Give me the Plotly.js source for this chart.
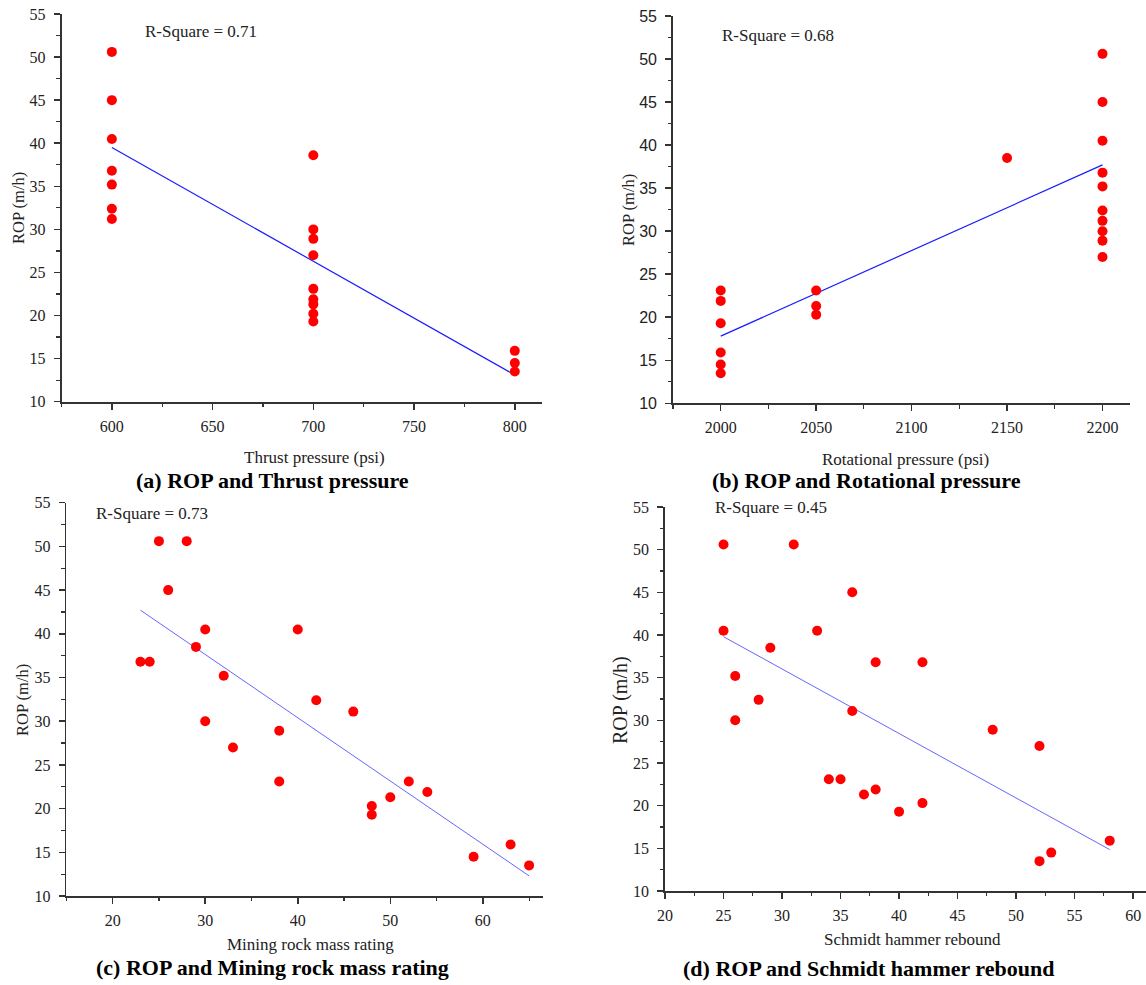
<!DOCTYPE html>
<html>
<head>
<meta charset="utf-8">
<script src="https://cdn.plot.ly/plotly-3.0.1.min.js"></script>
<style>html,body{margin:0;padding:0;background:#fff;}#chart{width:1146px;height:985px;}</style>
</head>
<body>
<div id="chart"></div>
<script>
// ---- Panel (a): ROP vs Thrust pressure ----
const thrustX = [600,600,600,600,600,600,600, 700,700,700,700,700,700,700,700,700, 800,800,800];
const thrustROP = [50.6,45,40.5,36.8,35.2,32.4,31.2, 38.6,30,28.9,27,23.1,21.9,21.3,20.2,19.3, 15.9,14.5,13.5];
const thrustFitX = [600, 800];
const thrustFitY = [39.5, 13.1];

// ---- Panel (b): ROP vs Rotational pressure ----
const rotX = [2000,2000,2000,2000,2000,2000, 2050,2050,2050, 2150, 2200,2200,2200,2200,2200,2200,2200,2200,2200,2200];
const rotROP = [23.1,21.9,19.3,15.9,14.5,13.5, 23.1,21.3,20.3, 38.5, 50.6,45,40.5,36.8,35.2,32.4,31.2,30,28.9,27];
const rotFitX = [2000, 2200];
const rotFitY = [17.8, 37.7];

// ---- Panel (c): ROP vs Mining rock mass rating ----
const mrmrX = [23,24,25,26,28,29,30,30,32,33,38,38,40,42,46,48,48,50,52,54,59,63,65];
const mrmrROP = [36.8,36.8,50.6,45,50.6,38.5,40.5,30,35.2,27,28.9,23.1,40.5,32.4,31.1,20.3,19.3,21.3,23.1,21.9,14.5,15.9,13.5];
const mrmrFitX = [23, 65];
const mrmrFitY = [42.7, 12.3];

// ---- Panel (d): ROP vs Schmidt hammer rebound ----
const shX = [25,25,26,26,28,29,31,33,34,35,36,36,37,38,38,40,42,42,48,52,52,53,58];
const shROP = [50.6,40.5,35.2,30,32.4,38.5,50.6,40.5,23.1,23.1,45,31.1,21.3,36.8,21.9,19.3,36.8,20.3,28.9,27,13.5,14.5,15.9];
const shFitX = [25, 58];
const shFitY = [39.8, 14.85];

const captions = ["(a) ROP and Thrust pressure", "(b) ROP and Rotational pressure", "(c) ROP and Mining rock mass rating", "(d) ROP and Schmidt hammer rebound"];
const xTitles = ["Thrust pressure (psi)", "Rotational pressure (psi)", "Mining rock mass rating", "Schmidt hammer rebound"];
const rSquares = ["R-Square = 0.71", "R-Square = 0.68", "R-Square = 0.73", "R-Square = 0.45"];
const yTitle = "ROP (m/h)";

const W = 1146, H = 985;
const SERIF = "Liberation Serif, Times New Roman, serif";
const SANS = "Liberation Sans, Arial, sans-serif";
const px = v => v / W;
const py = v => 1 - v / H;

function pts(x, y, n) {
  return {x: x, y: y, xaxis: 'x' + n, yaxis: 'y' + n, type: 'scatter', mode: 'markers',
    marker: {color: '#ff0000', size: 10, line: {width: 0}}, showlegend: false, hoverinfo: 'x+y'};
}
function fit(x, y, n, color, w) {
  return {x: x, y: y, xaxis: 'x' + n, yaxis: 'y' + n, type: 'scatter', mode: 'lines',
    line: {color: color, width: w}, showlegend: false, hoverinfo: 'skip'};
}

const data = [
  fit(thrustFitX, thrustFitY, '', '#1a1aff', 1.2), pts(thrustX, thrustROP, ''),
  fit(rotFitX, rotFitY, '2', '#1a1aff', 1.2), pts(rotX, rotROP, '2'),
  fit(mrmrFitX, mrmrFitY, '3', '#5555ff', 0.9), pts(mrmrX, mrmrROP, '3'),
  fit(shFitX, shFitY, '4', '#5555ff', 0.9), pts(shX, shROP, '4')
];

function xa(dom, range, dtick, minor, font, anchor) {
  return {domain: dom, range: range, anchor: anchor, tickmode: 'linear', tick0: 0, dtick: dtick,
    ticks: 'outside', ticklen: 6, tickwidth: 1.5, tickcolor: '#333',
    showline: true, linecolor: '#333', linewidth: 1.8, showgrid: false, zeroline: false,
    tickfont: font, ticklabelstandoff: 3, ticklabeloverflow: 'allow',
    minor: {ticks: 'outside', ticklen: 3.5, tickwidth: 1.2, tickcolor: '#333', dtick: minor, showgrid: false},
    fixedrange: true};
}
function ya(dom, font, anchor) {
  return {domain: dom, range: [10, 55], anchor: anchor, tickmode: 'linear', tick0: 0, dtick: 5,
    ticks: 'outside', ticklen: 6, tickwidth: 1.5, tickcolor: '#333',
    showline: true, linecolor: '#333', linewidth: 1.8, showgrid: false, zeroline: false,
    tickfont: font, ticklabelstandoff: 5, ticklabeloverflow: 'allow',
    minor: {ticks: 'outside', ticklen: 3.5, tickwidth: 1.2, tickcolor: '#333', dtick: 2.5, showgrid: false},
    fixedrange: true};
}

const serif16 = {family: SERIF, size: 16, color: '#222'};
const sans16 = {family: SANS, size: 16, color: '#222'};

const layout = {
  width: W, height: H,
  margin: {l: 0, r: 0, t: 0, b: 0},
  paper_bgcolor: '#fff', plot_bgcolor: '#fff',
  showlegend: false,
  xaxis: xa([px(61.5), px(542)], [575, 813.5], 50, 25, serif16, 'y'),
  yaxis: ya([py(401.7), py(14)], serif16, 'x'),
  xaxis2: xa([px(673), px(1130)], [1975, 2214.4], 50, 25, serif16, 'y2'),
  yaxis2: ya([py(403.3), py(16)], sans16, 'x2'),
  xaxis3: xa([px(66.4), px(543)], [15, 66.5], 10, 5, serif16, 'y3'),
  yaxis3: ya([py(896), py(502.7)], serif16, 'x3'),
  xaxis4: xa([px(665), px(1146)], [20, 61.1], 5, 2.5, serif16, 'y4'),
  yaxis4: ya([py(891), py(507)], serif16, 'x4'),
  annotations: []
};

// Axis titles, R-square labels and captions as paper annotations
const xTitlePos = [[314, 458], [905, 459], [310, 944], [912, 939]];
const yTitlePos = [[18, 208], [629, 210], [22, 700], [620, 700]];
const yTitleSize = [16.5, 16.5, 16.5, 20];
const rPos = [[143, 31], [720, 36], [94, 513], [713, 507]];
const capPos = [[272, 480], [866, 480], [272, 967], [868, 968]];

for (let i = 0; i < 4; i++) {
  layout.annotations.push({text: xTitles[i], xref: 'paper', yref: 'paper', x: px(xTitlePos[i][0]), y: py(xTitlePos[i][1]),
    xanchor: 'center', yanchor: 'middle', showarrow: false, font: {family: SERIF, size: 17, color: '#222'}});
  layout.annotations.push({text: yTitle, xref: 'paper', yref: 'paper', x: px(yTitlePos[i][0]), y: py(yTitlePos[i][1]),
    xanchor: 'center', yanchor: 'middle', textangle: -90, showarrow: false, font: {family: SERIF, size: yTitleSize[i], color: '#222'}});
  layout.annotations.push({text: rSquares[i], xref: 'paper', yref: 'paper', x: px(rPos[i][0]), y: py(rPos[i][1]),
    xanchor: 'left', yanchor: 'middle', showarrow: false, font: {family: SERIF, size: 17, color: '#222'}});
  layout.annotations.push({text: '<b>' + captions[i] + '</b>', xref: 'paper', yref: 'paper', x: px(capPos[i][0]), y: py(capPos[i][1]),
    xanchor: 'center', yanchor: 'middle', showarrow: false, font: {family: SERIF, size: 22, color: '#000'}});
}

Plotly.newPlot('chart', data, layout, {staticPlot: true, displayModeBar: false});
</script>
</body>
</html>
